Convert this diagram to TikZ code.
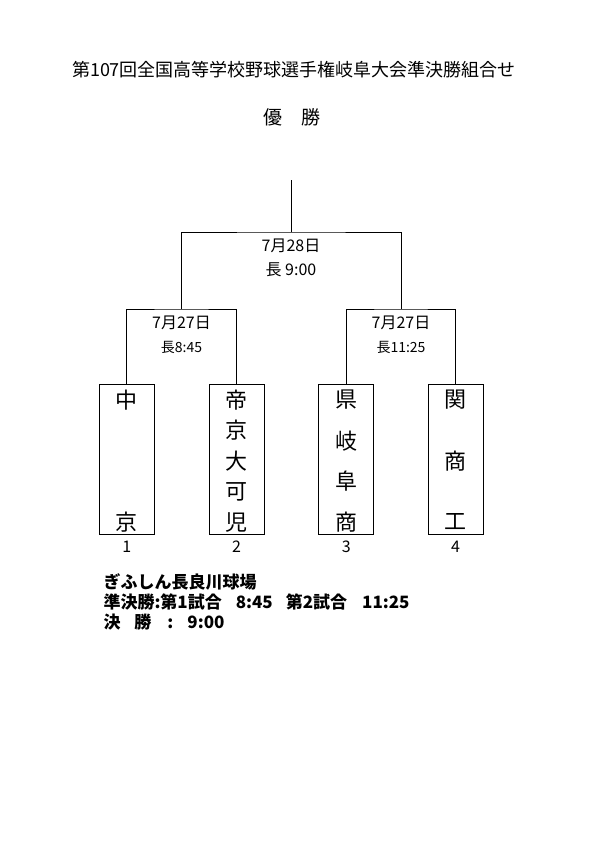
\documentclass[tikz,border=0pt]{standalone}
\usepackage{fontspec}
\setmainfont{Noto Sans CJK JP}
\usetikzlibrary{positioning}
\tikzset{
  teambox/.style={draw, line width=1pt, minimum width=55pt, minimum height=150pt, inner sep=0pt}
}
\tikzset{
  teamtext/.style={font=\fontsize{22}{24}\selectfont, inner sep=0pt},
  datetext/.style={font=\fontsize{16}{18}\selectfont, inner sep=0pt},
  timetext/.style={font=\fontsize{14}{16}\selectfont, inner sep=0pt},
  numtext/.style={font=\fontsize{16}{18}\selectfont, inner sep=0pt},
  notetext/.style={font=\fontsize{17}{19}\selectfont\bfseries, inner sep=0pt, anchor=west}
}

\begin{document}
\begin{tikzpicture}[x=1pt, y=-1pt, line width=1pt]
      \useasboundingbox (0,0) rectangle (595,841);
      \node[font=\fontsize{18}{20}\selectfont] (title) at (294,70) {第107回全国高等学校野球選手権岐阜大会準決勝組合せ};
      \node[font=\fontsize{19}{21}\selectfont] (yusho) at (292,117) {優\quad 勝};
      % team boxes
      \node[teambox] (t1) at (126.8,459) {};
      \node[teambox] (t2) at (236.5,459) {};
      \node[teambox] (t3) at (346.2,459) {};
      \node[teambox] (t4) at (455.5,459) {};
      \foreach \i/\x/\n/\name in {1/126.8/2/{中,京}, 2/236.5/5/{帝,京,大,可,児},
                                  3/346.2/4/{県,岐,阜,商}, 4/455.5/3/{関,商,工}}
        \foreach \c [count=\k from 0] in \name
          \node[teamtext] (t\i c\k) at (\x,{400+\k*122/(\n-1)}) {\c};
      \node[numtext, below=6pt of t1] (n1) {1};
      \node[numtext, below=6pt of t2] (n2) {2};
      \node[numtext, below=6pt of t3] (n3) {3};
      \node[numtext, below=6pt of t4] (n4) {4};
      % brackets
      \coordinate (win) at (291,180);
      \coordinate (fin) at (291,232);
      \coordinate (s1) at (181.5,309);
      \coordinate (s2) at (401,309);
      \draw (t1.north) |- (s1) -| (t2.north);
      \draw (t3.north) |- (s2) -| (t4.north);
      \draw (s1) |- (fin) -| (s2);
      \draw (fin) -- (win);
      \node[datetext] (d0) at (291,246) {7月28日};
      \node[datetext] (h0) at (291,270) {長 9:00};
      \node[datetext] (d1) at (181.5,323) {7月27日};
      \node[timetext] (h1) at (181.5,347) {長8:45};
      \node[datetext] (d2) at (401,323) {7月27日};
      \node[timetext] (h2) at (401,347) {長11:25};
      % venue and times
      \node[notetext] (v1) at (103,582) {ぎふしん長良川球場};
      \node[notetext] (v2) at (103,602) {準決勝:第1試合\hspace{14pt}8:45\hspace{13pt}第2試合\hspace{15pt}11:25};
      \node[notetext] (v3) at (103,622) {決\hspace{14pt}勝\hspace{16pt}:\hspace{14pt}9:00};
    \end{tikzpicture}
\end{document}
